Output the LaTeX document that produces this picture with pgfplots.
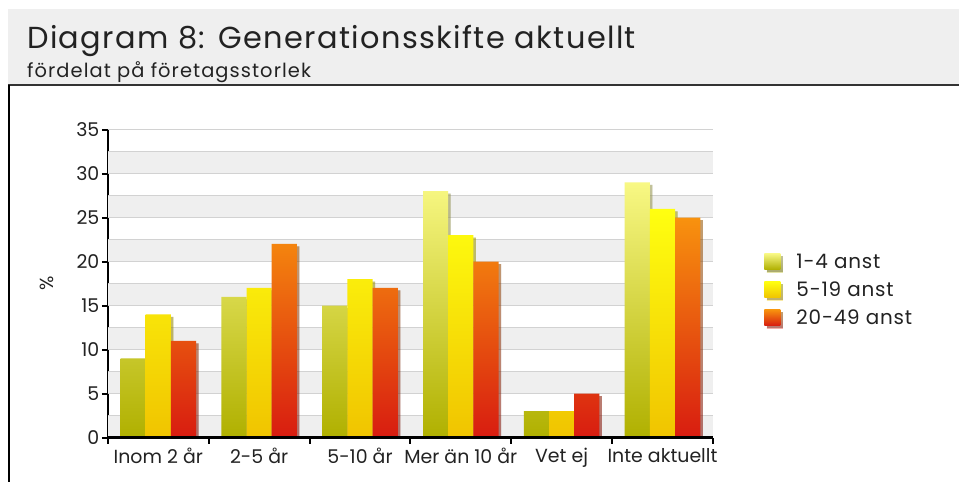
\documentclass[border=0pt]{standalone}
\usepackage{pgfplots}
\pgfplotsset{compat=1.18}
\usepackage{fontspec}
\setmainfont{Poppins}
\newfontfamily\widefont[LetterSpace=4.6]{Poppins}
\newfontfamily\subfont[LetterSpace=5.5]{Poppins}
\newfontfamily\legfont[LetterSpace=4]{Poppins}
\usetikzlibrary{shadows}

\definecolor{c1top}{HTML}{F8F884}
\definecolor{c1bot}{HTML}{B0B000}
\definecolor{c2top}{HTML}{FFFF10}
\definecolor{c2bot}{HTML}{F0C400}
\definecolor{c3top}{HTML}{F8920E}
\definecolor{c3bot}{HTML}{D81C10}
\definecolor{band}{HTML}{EFEFEF}
\definecolor{gridc}{HTML}{D2D2D2}
\definecolor{txt}{HTML}{222222}

\pgfplotsset{
  mybar/.style={draw=none,
    drop shadow={shadow xshift=2.5bp, shadow yshift=-2.5bp, opacity=0.35, fill=black},
    legend image code/.code={\path[##1, draw=none] (0bp,-8bp) rectangle (16bp,8bp);}},
}

\begin{document}
\begin{tikzpicture}[x=1bp,y=1bp]
\useasboundingbox (0,0) rectangle (959,482);
\fill[white] (0,0) rectangle (959,482);
\fill[band] (8,398) rectangle (959,473);
\draw[line width=2bp, black!80] (8,396.5) -- (959,396.5);
\draw[line width=1.5bp, black] (8.75,397) -- (8.75,0);
\node[anchor=base west, font=\widefont\fontsize{30.5}{32}\selectfont, text=txt, inner sep=0] at (27,433.5) {Diagram 8: Generationsskifte aktuellt};
\node[anchor=base west, font=\subfont\fontsize{19.5}{21}\selectfont, text=txt, inner sep=0] at (27,404) {fördelat på företagsstorlek};

\begin{axis}[
  at={(107,50.5)}, anchor=south west,
  scale only axis, width=605bp, height=308bp,
  xmin=-0.5, xmax=5.5, ymin=0, ymax=35,
  ybar=0pt, bar width=25.2bp,
  clip mode=individual,
  axis lines*=left,
  axis line style={line width=2.5bp, black},
  tick align=outside,
  xtick={0,...,5},
  xticklabels={Inom 2 år, 2-5 år, 5-10 år, Mer än 10 år, Vet ej, Inte aktuellt},
  major x tick style={draw=none},
  minor xtick={-0.5,0.5,1.5,2.5,3.5,4.5,5.5},
  minor x tick style={line width=2bp, black},
  minor tick length=6bp,
  ytick={0,5,...,35},
  major y tick style={line width=2bp, black},
  major tick length=6bp,
  /pgf/number format/assume math mode=true,
  ticklabel style={font=\fontsize{19}{21}\selectfont, text=txt},
  xticklabel style={yshift=-1bp},
  yticklabel style={xshift=1bp},
  ylabel={\%},
  ylabel style={at={(axis description cs:-0.1,0.5)}, anchor=center, font=\fontsize{19}{21}\selectfont, text=txt},
  legend style={at={(axis description cs:1.08,0.48)}, anchor=west, draw=none, fill=none,
    font=\legfont\fontsize{20}{22}\selectfont, text=txt, row sep=8bp,
    /tikz/every odd column/.append style={column sep=14bp}},
  legend cell align=left,
]
\fill[band] (axis cs:-0.5,0) rectangle (axis cs:5.5,2.5);
\fill[band] (axis cs:-0.5,5) rectangle (axis cs:5.5,7.5);
\fill[band] (axis cs:-0.5,10) rectangle (axis cs:5.5,12.5);
\fill[band] (axis cs:-0.5,15) rectangle (axis cs:5.5,17.5);
\fill[band] (axis cs:-0.5,20) rectangle (axis cs:5.5,22.5);
\fill[band] (axis cs:-0.5,25) rectangle (axis cs:5.5,27.5);
\fill[band] (axis cs:-0.5,30) rectangle (axis cs:5.5,32.5);
\foreach \yy in {2.5,5,7.5,10,12.5,15,17.5,20,22.5,25,27.5,30,32.5,35} {
  \edef\tmp{\noexpand\draw[gridc, line width=1.5bp] (axis cs:-0.5,\yy) -- (axis cs:5.5,\yy);}\tmp
}
\addplot[mybar, top color=c1top, bottom color=c1bot] coordinates {(0,9) (1,16) (2,15) (3,28) (4,3) (5,29)};
\addplot[mybar, top color=c2top, bottom color=c2bot] coordinates {(0,14) (1,17) (2,18) (3,23) (4,3) (5,26)};
\addplot[mybar, top color=c3top, bottom color=c3bot] coordinates {(0,11) (1,22) (2,17) (3,20) (4,5) (5,25)};
\legend{1-4 anst, 5-19 anst, 20-49 anst}
\draw[line width=2.5bp, black] (axis cs:-0.5,0) -- (axis cs:5.5,0);
\end{axis}
\end{tikzpicture}
\end{document}
